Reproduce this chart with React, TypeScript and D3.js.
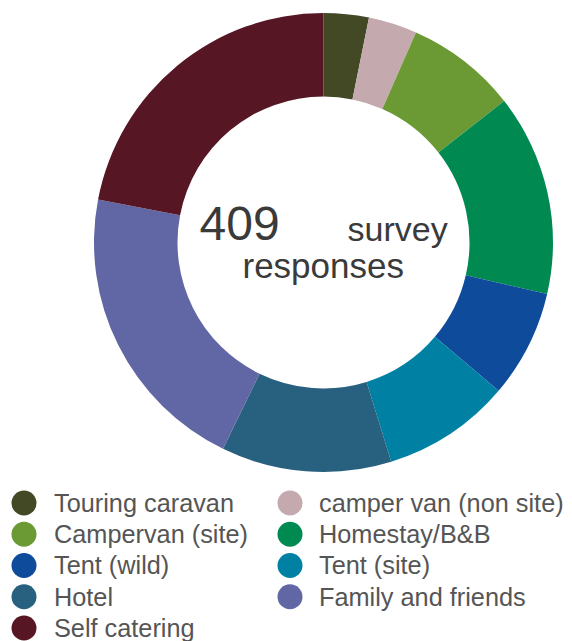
import React from "react";
import * as d3 from "d3";

const categories = [
  "Touring caravan",
  "camper van (non site)",
  "Campervan (site)",
  "Homestay/B&B",
  "Tent (wild)",
  "Tent (site)",
  "Hotel",
  "Family and friends",
  "Self catering",
];
const values = [13, 14, 32, 58, 31, 37, 49, 85, 90];
const colors = [
  "#434825",
  "#c4aaae",
  "#6b9a34",
  "#008a52",
  "#0e4b9b",
  "#0081a4",
  "#28617f",
  "#6166a5",
  "#561624",
];
const totalLabel = "409";

const W = 572;
const H = 641;

export default function App() {
  const cx = 323.5;
  const cy = 242.5;
  const outerR = 229.5;
  const innerR = 146;
  const pie = d3
    .pie<number>()
    .sort(null)
    .value((d) => d)
    .startAngle(0)
    .endAngle(2 * Math.PI);
  const arcs = pie(values);
  const arcGen = d3.arc<d3.PieArcDatum<number>>().innerRadius(innerR).outerRadius(outerR);
  const color = d3.scaleOrdinal<string, string>().domain(categories).range(colors);

  const legendX = [24, 290];
  const legendTextX = [54, 319];
  const rowY = d3.scaleLinear().domain([0, 4]).range([503, 628]);
  const font = "'Liberation Sans', Arial, sans-serif";

  return (
    <svg
      width={W}
      height={H}
      style={{ position: "absolute", left: 0, top: 0, background: "#fff" }}
    >
      <g transform={`translate(${cx},${cy})`}>
        {arcs.map((a, i) => (
          <path key={i} d={arcGen(a) || ""} fill={color(categories[i])} />
        ))}
        <text x={-124} y={-3} fontFamily={font} fontSize={48} fill="#3a3a3a">
          {totalLabel}
        </text>
        <text x={24} y={-2} fontFamily={font} fontSize={34} fill="#3a3a3a">
          survey
        </text>
        <text x={-81} y={35} fontFamily={font} fontSize={35} fill="#3a3a3a">
          responses
        </text>
      </g>
      {categories.map((c, i) => {
        const col = i % 2;
        const row = Math.floor(i / 2);
        const y = rowY(row);
        return (
          <g key={c}>
            <circle cx={legendX[col]} cy={y} r={12.5} fill={color(c)} />
            <text
              x={legendTextX[col]}
              y={y}
              dy="0.35em"
              fontFamily={font}
              fontSize={25.3}
              fill="#555"
            >
              {c}
            </text>
          </g>
        );
      })}
    </svg>
  );
}
